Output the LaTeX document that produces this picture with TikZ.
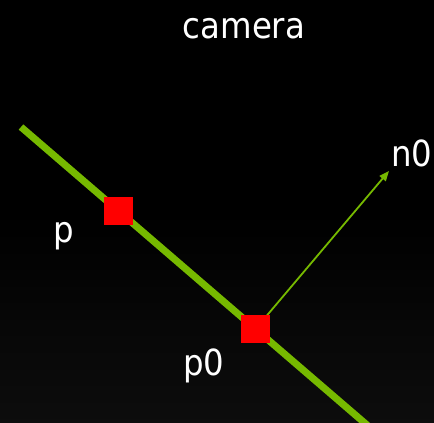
\documentclass[tikz,border=0pt]{standalone}
\usepackage{fontspec}
\setmainfont{DejaVu Sans Condensed}
\usetikzlibrary{arrows.meta}
\definecolor{nvgreen}{HTML}{76B900}
\definecolor{sqred}{HTML}{FF0000}
\tikzset{
  lbl/.style={text=white, font=\fontsize{36}{40}\selectfont, inner sep=0pt},
  pt/.style={fill=sqred, draw=none, minimum width=29pt, minimum height=28pt, inner sep=0pt},
  surface/.style={draw=nvgreen, line width=7pt},
  normal/.style={draw=nvgreen, line width=1.8pt, -{Triangle[length=10pt,width=8pt]}}
}
\begin{document}
\begin{tikzpicture}[x=1pt,y=-1pt]
\shade[top color=black, bottom color=black!95!white, middle color=black] (0,0) rectangle (434,423);
\useasboundingbox (0,0) rectangle (434,423);
\coordinate (s0) at (21,127);
\coordinate (s1) at (374,431);
\coordinate (ntip) at (389,171);
\draw[surface] (s0) -- (s1);
\node[pt] (p) at (118.5,211) {};
\node[pt] (p0) at (255.5,329) {};
\draw[normal] (p0.center) -- (ntip);
\node[pt] at (p0) {};
\node[lbl, anchor=base] (cam) at (244,38) {camera};
\node[lbl, anchor=base west] (lp) at (53,242) {p};
\node[lbl, anchor=base west] (lp0) at (183,375) {p0};
\node[lbl, anchor=base west] (ln0) at (391,166) {n0};
\end{tikzpicture}
\end{document}
